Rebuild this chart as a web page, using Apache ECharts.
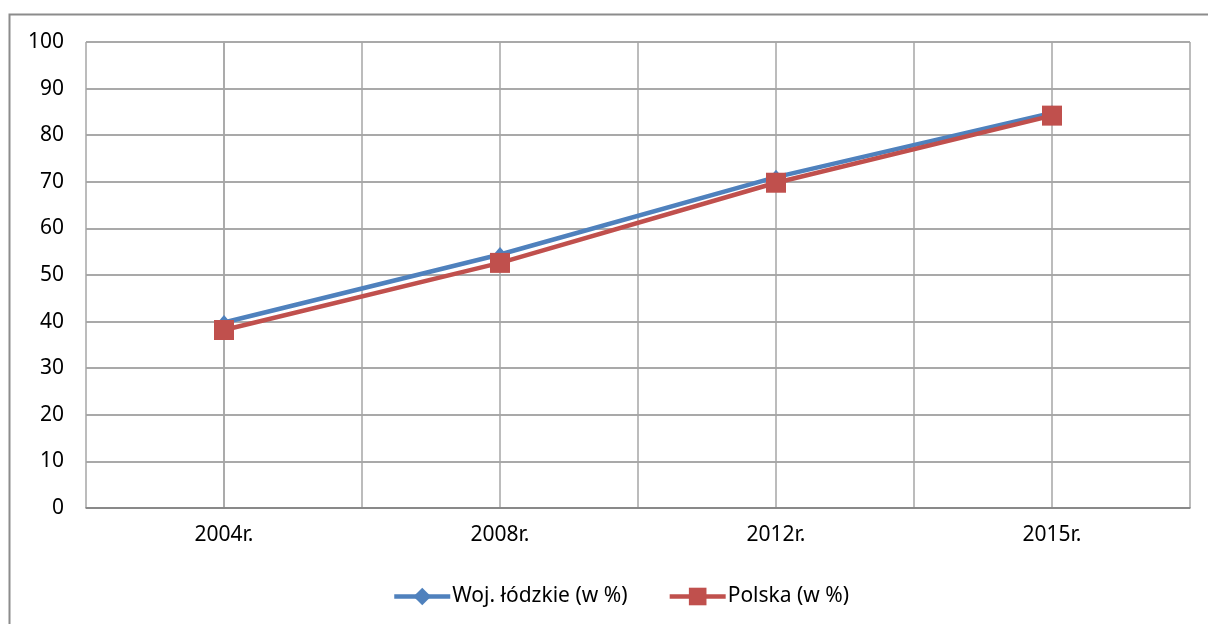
<!DOCTYPE html>
<html>
<head>
<meta charset="utf-8">
<script src="https://cdn.jsdelivr.net/npm/echarts@6/dist/echarts.min.js"></script>
<style>
html,body{margin:0;padding:0;background:#fff;}
#c{width:1208px;height:624px;}
</style>
</head>
<body>
<div id="c"></div>
<script>
const categories = ['2004r.', '2008r.', '2012r.', '2015r.'];
const lodzkie = [39.8, 54.4, 71.0, 84.8];
const polska = [38.2, 52.6, 69.8, 84.2];
const yTicks = [0, 10, 20, 30, 40, 50, 60, 70, 80, 90, 100];

const FONT = '"Noto Sans", "Open Sans", sans-serif';
const chart = echarts.init(document.getElementById('c'), null, {renderer: 'canvas'});
const toPts = arr => arr.map((v, i) => [i, v]);

chart.setOption({
  animation: false,
  backgroundColor: '#fff',
  textStyle: {fontFamily: FONT},
  graphic: [{
    type: 'rect', silent: true, z: -1,
    shape: {x: 9.5, y: 14.5, width: 1400, height: 800},
    style: {fill: 'none', stroke: '#8c8c8c', lineWidth: 2}
  }],
  grid: {left: 86, right: 18, top: 42, bottom: 116, containLabel: false},
  xAxis: {
    type: 'value', min: -0.5, max: 3.5, interval: 0.5,
    axisLine: {show: true, onZero: false, lineStyle: {color: '#7f7f7f', width: 1.5}},
    axisTick: {show: false},
    splitLine: {show: true, lineStyle: {color: '#a6a6a6', width: 1.5}},
    axisLabel: {
      fontSize: 21, color: '#000', fontFamily: FONT, margin: 17,
      showMinLabel: true, showMaxLabel: true,
      formatter: v => (Number.isInteger(v) && categories[v]) ? categories[v] : ''
    }
  },
  yAxis: {
    type: 'value', min: 0, max: 100, interval: 10,
    axisLine: {show: true, lineStyle: {color: '#a6a6a6', width: 1.5}},
    axisTick: {show: false},
    splitLine: {show: true, lineStyle: {color: '#8c8c8c', width: 1.5}},
    axisLabel: {
      fontSize: 21, color: '#000', fontFamily: FONT, margin: 22,
      formatter: v => yTicks.includes(v) ? String(v) : ''
    }
  },
  legend: {
    bottom: 12, left: 387, itemGap: 40, itemWidth: 56, itemHeight: 22,
    lineStyle: {width: 4.5},
    textStyle: {fontSize: 21, color: '#000', fontFamily: FONT, padding: [0, 0, 0, -3]},
    data: [
      {name: 'Woj. łódzkie (w %)'},
      {name: 'Polska (w %)'}
    ]
  },
  series: [
    {
      name: 'Woj. łódzkie (w %)', type: 'line', data: toPts(lodzkie),
      symbol: 'diamond', symbolSize: [13, 15], showAllSymbol: true,
      lineStyle: {color: '#4F81BD', width: 4.5},
      itemStyle: {color: '#4F81BD'}, z: 2
    },
    {
      name: 'Polska (w %)', type: 'line', data: toPts(polska),
      symbol: 'rect', symbolSize: 20, showAllSymbol: true,
      lineStyle: {color: '#C0504D', width: 4.5},
      itemStyle: {color: '#C0504D'}, z: 3
    }
  ]
});
</script>
</body>
</html>
